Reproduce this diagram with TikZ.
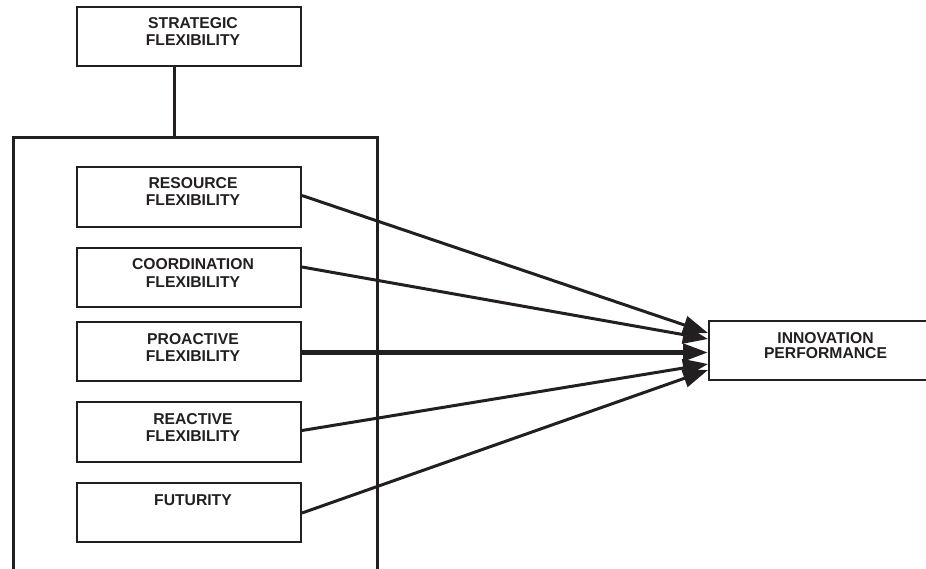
\documentclass[tikz,border=0pt]{standalone}
\usepackage{fontspec}
\setmainfont{Liberation Sans}
\usetikzlibrary{arrows.meta}
\definecolor{ink}{RGB}{35,31,32}
\newcommand{\bxt}[5]{\parbox[c][#2][t]{#1}{\fontsize{15.7}{#3}\selectfont\bfseries\color{ink}\centering\leftskip=#4 plus 1fil\rightskip=0pt plus 1fil\parindent=0pt\rule{0pt}{22pt}#5\par}}
\begin{document}
\begin{tikzpicture}[x=1pt,y=-1pt,
  fbox/.style={draw=ink, line width=2pt, inner sep=0pt, fill=white},
  frame/.style={draw=ink, line width=3pt},
  conn/.style={draw=ink, line width=3pt, -{Triangle[length=25pt,width=18pt]}},
  connthick/.style={draw=ink, line width=4.5pt, -{Triangle[length=25pt,width=17pt]}}]
\clip (0,0) rectangle (926,569);
\fill[white] (0,0) rectangle (926,569);
% frame
\coordinate (fbl) at (13,580);
\coordinate (ftl) at (13,138);
\coordinate (ftr) at (377,138);
\coordinate (fbr) at (377,580);
\coordinate (fjoin) at (174,138);
\draw[frame] (fbl) -- (ftl) -- (ftr) -- (fbr);
% boxes
\node[fbox] (strat) at (189,36.5) {\bxt{224pt}{59pt}{17pt}{8pt}{STRATEGIC\\FLEXIBILITY}};
\node[fbox] (res) at (189,197) {\bxt{224pt}{60pt}{17pt}{8pt}{RESOURCE\\FLEXIBILITY}};
\node[fbox] (coord) at (189,277.5) {\bxt{224pt}{59pt}{17pt}{8pt}{COORDINATION\\FLEXIBILITY}};
\node[fbox] (pro) at (189,351.5) {\bxt{224pt}{59pt}{17pt}{8pt}{PROACTIVE\\FLEXIBILITY}};
\node[fbox] (react) at (189,432) {\bxt{224pt}{60pt}{17pt}{8pt}{REACTIVE\\FLEXIBILITY}};
\node[fbox] (fut) at (189,512.5) {\bxt{224pt}{59pt}{17pt}{8pt}{FUTURITY}};
\node[fbox] (innov) at (825.5,350.5) {\bxt{233pt}{59pt}{15pt}{0pt}{INNOVATION\\PERFORMANCE}};
% connectors
\draw[frame] (strat.south -| fjoin) -- (fjoin);
\draw[conn] ([yshift=1.5pt]res.east) -- ([yshift=17.5pt]innov.west);
\draw[conn] ([yshift=10.5pt]coord.east) -- ([yshift=11.5pt]innov.west);
\draw[connthick] ([yshift=-1pt]pro.east) -- ([yshift=-2pt]innov.west);
\draw[conn] ([yshift=1.5pt]react.east) -- ([yshift=-13.5pt]innov.west);
\draw[conn] ([yshift=-0.5pt]fut.east) -- ([yshift=-19.5pt]innov.west);
\end{tikzpicture}
\end{document}
